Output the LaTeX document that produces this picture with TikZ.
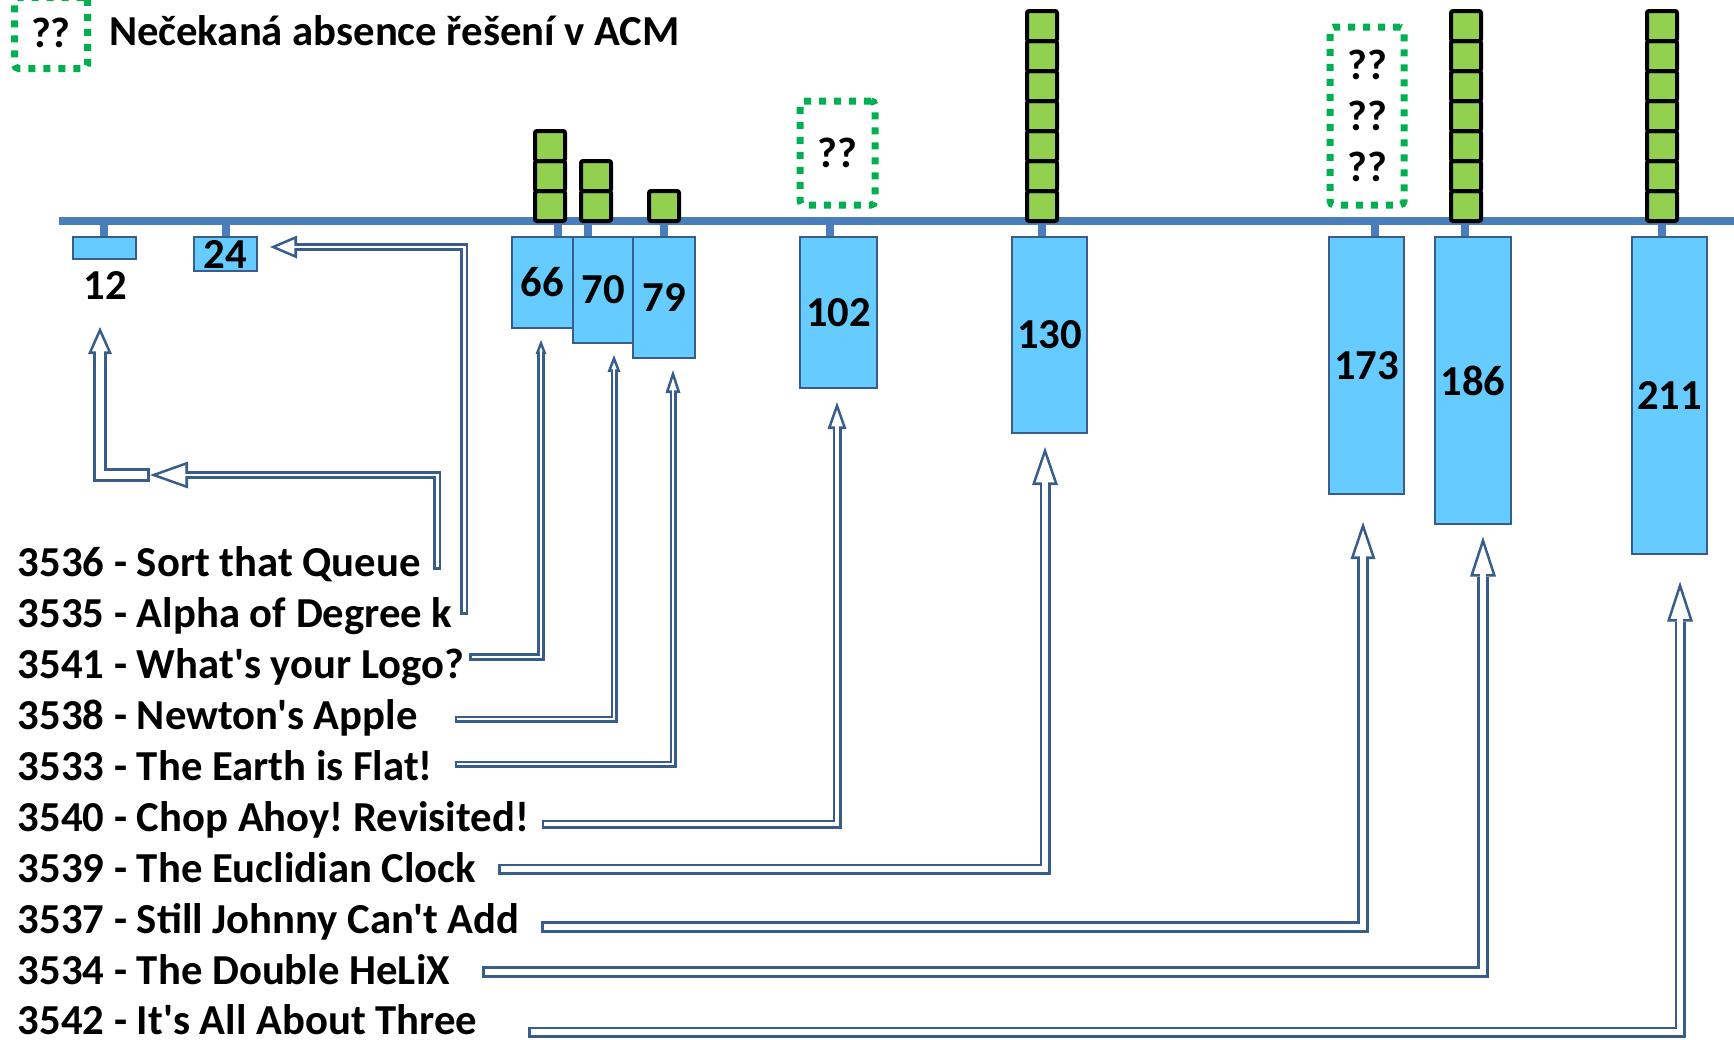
\documentclass[tikz,border=0pt]{standalone}
\usepackage{fontspec}
\setmainfont{Carlito}[Ligatures=TeXOff]
\usetikzlibrary{arrows.meta,calc}
\frenchspacing

\definecolor{barblue}{HTML}{66CCFF}
\definecolor{edgeblue}{HTML}{385D8A}
\definecolor{lineblue}{HTML}{4A7EBB}
\definecolor{okgreen}{HTML}{92D050}
\definecolor{gapgreen}{HTML}{00B050}

\tikzset{
    every node/.style = {font=\bfseries\fontsize{21.35}{25.5}\selectfont, inner sep=0pt, outer sep=0pt},
    timeline/.style   = {draw=lineblue, line width=4pt},
    bucket/.style     = {draw=edgeblue, fill=barblue, line width=1.25pt},
    solved/.style     = {draw=black, fill=okgreen, line width=2pt, rounded corners=1pt, minimum size=15pt},
    missing/.style    = {draw=gapgreen, line width=3.5pt, dash pattern=on 3.5pt off 4pt, rounded corners=2pt},
    flow/.code n args = {3}{%
        \pgfmathsetmacro\flS{#1/2}%
        \pgfmathsetmacro\flW{#2/2}%
        \pgfmathsetmacro\flL{#3/2}%
        \pgfmathsetmacro\flA{atan(\flW/(2*\flL))}%
        \pgfmathsetmacro\flD{1.3/sin(\flA)}%
        \pgfmathsetmacro\flLi{\flL-1.3-\flD}%
        \pgfmathsetmacro\flWi{2*((\flL-1.3)*tan(\flA)-1.3/cos(\flA))}%
        \pgfmathsetmacro\flSi{\flS-2.6}%
        \edef\flowopts{draw=white, line width=\flSi pt, shorten <=1.3pt, shorten >=\flD pt,
            -{Triangle[length=\flLi pt, width=\flWi pt, line width=0pt]},
            preaction={draw=edgeblue, line width=\flS pt, shorten <=0pt, shorten >=0pt,
                -{Triangle[length=\flL pt, width=\flW pt, line width=0pt]}}}%
        \expandafter\tikzset\expandafter{\flowopts}%
    }
}

\begin{document}
\begin{tikzpicture}[x=0.5pt, y=-0.5pt]
    \useasboundingbox (0,0) rectangle (1734,1039);

    \draw[timeline] (59,221) -- (1740,221);
    \foreach \x in {104,226,558,588,664,830,1042,1375,1465,1662}
        \draw[timeline] (\x,221) -- (\x,237);

    \node[bucket, minimum width=31.5pt, minimum height=11pt]    (b12)  at (104.5,248)   {};
    \node[bucket, minimum width=31.5pt, minimum height=17pt]    (b24)  at (225.5,254)   {24};
    \node[bucket, minimum width=30.5pt, minimum height=45.5pt]  (b66)  at (542.5,282.5) {66};
    \node[bucket, minimum width=30pt,   minimum height=53pt]    (b70)  at (603,290)     {70};
    \node[bucket, minimum width=31pt,   minimum height=60.5pt]  (b79)  at (664,297.5)   {79};
    \node[bucket, minimum width=38.5pt, minimum height=75.5pt]  (b102) at (838.5,312.5) {102};
    \node[bucket, minimum width=37.5pt, minimum height=98pt]    (b130) at (1049.5,335)  {130};
    \node[bucket, minimum width=37.5pt, minimum height=128.5pt] (b173) at (1366.5,365.5) {173};
    \node[bucket, minimum width=38pt,   minimum height=143.5pt] (b186) at (1473,380.5)  {186};
    \node[bucket, minimum width=37.5pt, minimum height=158.5pt] (b211) at (1669.5,395.5) {211};
    \node (l12) at (105,285) {12};

    \foreach \x/\n in {550/3, 596/2, 664/1, 1042/7, 1466/7, 1662/7}
        \foreach \k in {1,...,\n}
            \node[solved] (ok\x-\k) at (\x,{236-30*\k}) {};

    \node[missing, minimum width=36.5pt, minimum height=35.5pt] (qkey) at (51,33)     {??};
    \node[missing, minimum width=37.5pt, minimum height=52pt]   (q102) at (837.5,153) {??};
    \node[missing, minimum width=37pt, minimum height=89pt, align=center] (q173) at (1367,116) {??\\??\\??};
    \node[anchor=base west] (key) at (109,45) {Nečekaná absence řešení v ACM};

    \node[anchor=base west] (p3536) at (18,576)  {3536 - Sort that Queue};
    \node[anchor=base west] (p3535) at (18,627)  {3535 - Alpha of Degree k};
    \node[anchor=base west] (p3541) at (18,678)  {3541 - What's your Logo?};
    \node[anchor=base west] (p3538) at (18,729)  {3538 - Newton's Apple};
    \node[anchor=base west] (p3533) at (18,780)  {3533 - The Earth is Flat!};
    \node[anchor=base west] (p3540) at (18,831)  {3540 - Chop Ahoy! Revisited!};
    \node[anchor=base west] (p3539) at (18,882)  {3539 - The Euclidian Clock};
    \node[anchor=base west] (p3537) at (18,933)  {3537 - Still Johnny Can't Add};
    \node[anchor=base west] (p3534) at (18,984)  {3534 - The Double HeLiX};
    \node[anchor=base west] (p3542) at (18,1034) {3542 - It's All About Three};

    \coordinate (hub) at (150,475);
    \draw[flow={14}{24}{27}] (hub) -| ($(l12.south)+(-5,28)$);
    \draw[flow={8}{27}{38}]  ($(p3536.base east)+(16.5,-6)$)  |- (hub);
    \draw[flow={8}{23}{27}]  ($(p3535.base east)+(12,-12)$)   |- ($(b24.east)+(13,-7)$);
    \draw[flow={8}{11}{14}]  ($(p3541.base east)+(5,-21)$)    -| ($(b66.south)+(-1.5,12)$);
    \draw[flow={7}{13}{17}]  ($(p3538.base east)+(37,-10)$)   -| ($(b70.south)+(11,12)$);
    \draw[flow={7}{15}{23}]  ($(p3533.base east)+(22,-16)$)   -| ($(b79.south)+(9,12)$);
    \draw[flow={9}{19}{27}]  ($(p3540.base east)+(13,-7)$)    -| ($(b102.south)+(-1.5,14)$);
    \draw[flow={11}{26}{38}] ($(p3539.base east)+(22,-13)$)   -| ($(b130.south)+(-4.5,14)$);
    \draw[flow={12}{25}{37}] ($(p3537.base east)+(22,-6)$)    -| ($(b173.south)+(-3.5,28)$);
    \draw[flow={12}{26}{40}] ($(p3534.base east)+(32,-12)$)   -| ($(b186.south)+(10,12.5)$);
    \draw[flow={11}{26}{40}] ($(p3542.base east)+(51,-2)$)    -| ($(b211.south)+(10.5,27.5)$);
\end{tikzpicture}
\end{document}
